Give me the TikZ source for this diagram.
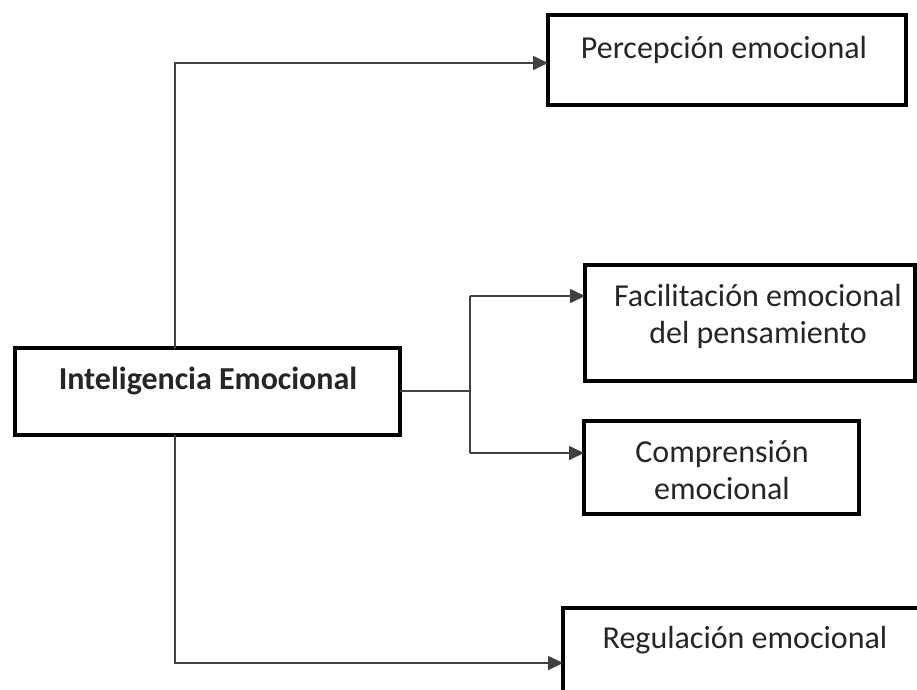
\documentclass[tikz,border=0pt]{standalone}
\usepackage{fontspec}
\setmainfont{Carlito}
\usetikzlibrary{arrows.meta}
\begin{document}
\begin{tikzpicture}[x=1pt,y=-1pt,
  box/.style={draw, line width=3.4pt, inner sep=0pt, outer sep=0pt, anchor=north west},
  lbl/.style={font=\fontsize{32}{37}\selectfont, align=center, inner sep=0pt, text=black!85},
  conn/.style={line width=1.7pt, draw=black!75},
  arr/.style={conn, -{Triangle[length=15pt,width=14pt]}}]
\useasboundingbox (0,0) rectangle (917,689);
\fill[white] (0,0) rectangle (917,689);
\clip (0,0) rectangle (917,689);
% boxes
\node[box, minimum width=385pt, minimum height=87pt] (main) at (15,348) {};
\node[box, minimum width=358pt, minimum height=90pt] (perc) at (548,15) {};
\node[box, minimum width=330pt, minimum height=116pt] (fac) at (585,265) {};
\node[box, minimum width=275pt, minimum height=93pt] (comp) at (584,421) {};
\node[box, minimum width=400pt, minimum height=120pt] (reg) at (563,608) {};
% texts
\node[lbl, font=\fontsize{32}{37}\selectfont\bfseries] (maint) at (208,381) {Inteligencia Emocional};
\node[lbl] (perct) at (724,50) {Percepción emocional};
\node[lbl] (fact) at (758,316) {Facilitación emocional\\del pensamiento};
\node[lbl] (compt) at (722,470) {Comprensión\\emocional};
\node[lbl] (regt) at (745,640) {Regulación emocional};
% connector points
\coordinate (tl) at (175,63);
\coordinate (bl) at (175,663);
\coordinate (jn) at (470,391);
\coordinate (fj) at (470,296);
\coordinate (cj) at (470,453);
% connectors
\draw[arr] (main.north -| tl) -- (tl) -- (tl -| perc.west);
\draw[arr] (main.south -| bl) -- (bl) -- (bl -| reg.west);
\draw[conn] (main.east |- jn) -- (jn);
\draw[conn] (fj) -- (cj);
\draw[arr] (fj) -- (fj -| fac.west);
\draw[arr] (cj) -- (cj -| comp.west);
\end{tikzpicture}
\end{document}
